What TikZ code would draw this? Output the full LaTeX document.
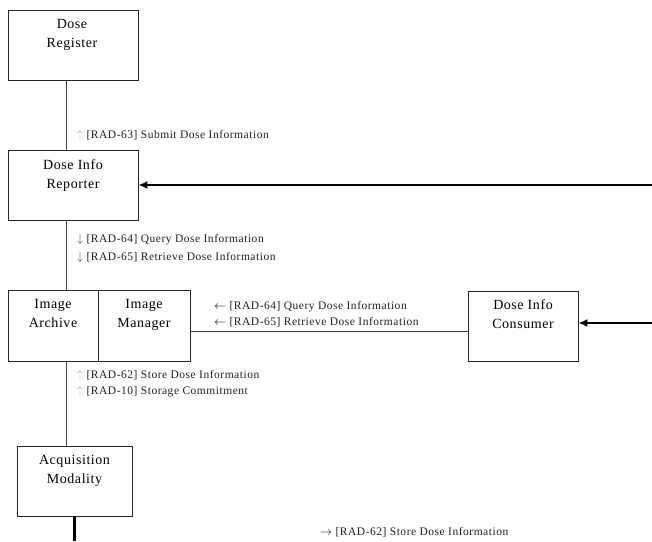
\documentclass[tikz,border=0pt]{standalone}
\usepackage{fontspec}
\setmainfont{Liberation Serif}
\usetikzlibrary{arrows.meta}
\definecolor{txt}{RGB}{40,25,45}
\definecolor{uparr}{RGB}{150,180,170}
\definecolor{dnarr}{RGB}{70,70,80}
\newcommand{\uparw}{\textcolor{uparr}{$\uparrow$}}
\newcommand{\dnarw}{\textcolor{dnarr}{$\downarrow$}}
\newcommand{\lfarw}{\textcolor{black}{$\leftarrow$}}
\newcommand{\rtarw}{\textcolor{black}{$\rightarrow$}}
\tikzset{
  actor/.style={draw=black!85, line width=0.8pt, rectangle, inner sep=0pt},
  boxtext/.style={anchor=north, align=center, inner sep=0pt, font=\fontsize{14}{18.5}\selectfont\addfontfeature{LetterSpace=4}, text=black},
  txlabel/.style={anchor=base west, align=left, inner sep=0pt, font=\fontsize{11.5}{16.5}\selectfont\addfontfeature{LetterSpace=4.5}, text=txt},
  link/.style={draw=black!75, line width=0.8pt},
  feed/.style={draw=black, line width=2.4pt, -{Latex[length=9pt,width=8pt]}},
  thickline/.style={draw=black, line width=2.6pt}
}
\begin{document}
\begin{tikzpicture}[x=1pt,y=-1pt]
\useasboundingbox (0,0) rectangle (652,541);
% actor boxes
\node[actor, minimum width=130pt, minimum height=70pt] (dr) at (73,45) {};
\node[actor, minimum width=130pt, minimum height=70pt] (rep) at (73,185) {};
\node[actor, minimum width=90pt, minimum height=71pt] (ia) at (53,325.5) {};
\node[actor, minimum width=92pt, minimum height=71pt] (im) at (144,325.5) {};
\node[actor, minimum width=110pt, minimum height=70pt] (con) at (523,326) {};
\node[actor, minimum width=115pt, minimum height=70pt] (am) at (74.5,481) {};
% box texts
\node[boxtext] (drt) at (72,19.5) {Dose\\Register};
\node[boxtext] (rept) at (73,159.5) {Dose Info\\Reporter};
\node[boxtext] (iat) at (53,299.5) {Image\\Archive};
\node[boxtext] (imt) at (144,299.5) {Image\\Manager};
\node[boxtext] (cont) at (523,299.5) {Dose Info\\Consumer};
\node[boxtext] (amt) at (74.5,455.5) {Acquisition\\Modality};
% helper coordinates
\coordinate (vx) at (66,0);
\coordinate (hy) at (0,331);
\coordinate (src1) at (652,185);
\coordinate (src2) at (652,323);
\coordinate (amend) at (74.5,541);
% connectors
\draw[link] (dr.south -| vx) -- (rep.north -| vx);
\draw[link] (rep.south -| vx) -- (ia.north -| vx);
\draw[link] (ia.south -| vx) -- (am.north -| vx);
\draw[link] (im.east |- hy) -- (con.west |- hy);
\draw[feed] (src1) -- (rep.east |- src1);
\draw[feed] (src2) -- (con.east |- src2);
\draw[thickline] (am.south -| amend) -- (amend);
% transaction labels
\node[txlabel] (l63) at (77,138) {\uparw\ [RAD-63] Submit Dose Information};
\node[txlabel] (l64a) at (77,242) {\dnarw\ [RAD-64] Query Dose Information};
\node[txlabel] (l65a) at (77,260) {\dnarw\ [RAD-65] Retrieve Dose Information};
\node[txlabel] (l64b) at (214,309) {\lfarw\ [RAD-64] Query Dose Information};
\node[txlabel] (l65b) at (214,325) {\lfarw\ [RAD-65] Retrieve Dose Information};
\node[txlabel] (l62a) at (77,378) {\uparw\ [RAD-62] Store Dose Information};
\node[txlabel] (l10) at (77,394) {\uparw\ [RAD-10] Storage Commitment};
\node[txlabel] (l62b) at (320,535) {\rtarw\ [RAD-62] Store Dose Information};
\end{tikzpicture}
\end{document}
